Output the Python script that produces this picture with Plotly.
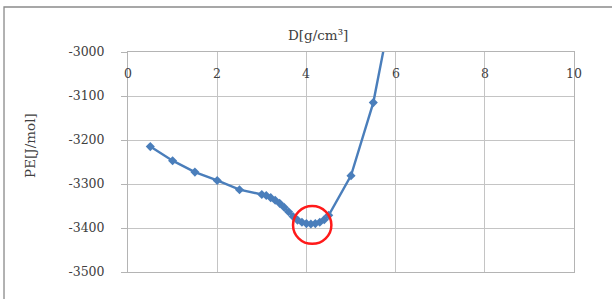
import plotly.graph_objects as go

density = [0.5, 1.0, 1.5, 2.0, 2.5, 3.0, 3.1, 3.2, 3.3, 3.4, 3.5, 3.6, 3.7, 3.8,
           3.9, 4.0, 4.1, 4.2, 4.3, 4.4, 4.5, 5.0, 5.5, 6.0]
energy = [-3215, -3247, -3273, -3292, -3313, -3324, -3326, -3331, -3337, -3344,
          -3353, -3363, -3374, -3382, -3387, -3390, -3391, -3390, -3387, -3381,
          -3371, -3281, -3115, -2855]
x_ticks = [0, 2, 4, 6, 8, 10]
y_ticks = [-3000, -3100, -3200, -3300, -3400, -3500]

FONT = "DejaVu Serif"
TXT = "#404040"

fig = go.Figure()
fig.add_trace(go.Scatter(
    x=density, y=energy, mode="lines+markers",
    line=dict(color="#4a7ebb", width=2.4),
    marker=dict(symbol="diamond", size=7, color="#4a7ebb"),
    showlegend=False,
))

x_label_annotations = [
    dict(text=str(v), x=v, xref="x", y=1.0, yref="paper", yshift=-21,
         showarrow=False, xanchor="center", yanchor="middle",
         font=dict(family=FONT, size=12.5, color=TXT))
    for v in x_ticks
]

fig.update_layout(
    width=612, height=299,
    margin=dict(l=128, r=38, t=52, b=27, autoexpand=False),
    paper_bgcolor="white", plot_bgcolor="white",
    font=dict(family=FONT, size=12, color=TXT),
    xaxis=dict(range=[0, 10], side="top", tickvals=x_ticks,
               showticklabels=False, ticks="", automargin=False,
               showgrid=True, gridcolor="#c4c4c4", gridwidth=1,
               showline=True, linecolor="#b4b4b4", linewidth=1, mirror=True,
               zeroline=False, fixedrange=True),
    yaxis=dict(range=[-3500, -3000], tickvals=y_ticks,
               ticktext=[str(v) for v in y_ticks],
               ticks="outside", ticklen=6, tickcolor="#b4b4b4",
               ticklabelstandoff=14, automargin=False,
               showgrid=True, gridcolor="#c4c4c4", gridwidth=1,
               showline=True, linecolor="#b4b4b4", linewidth=1, mirror=True,
               zeroline=False, fixedrange=True,
               tickfont=dict(family=FONT, size=12.5, color=TXT)),
    annotations=x_label_annotations + [
        dict(text="D[g/cm³]", xref="paper", yref="paper", x=0.426, y=1.077,
             showarrow=False, font=dict(family=FONT, size=13.5, color=TXT),
             xanchor="center", yanchor="middle"),
        dict(text="PE[J/mol]", xref="paper", yref="paper", x=-0.2197, y=0.573,
             showarrow=False, textangle=-90,
             font=dict(family=FONT, size=13.5, color=TXT),
             xanchor="center", yanchor="middle"),
    ],
    shapes=[
        dict(type="rect", xref="paper", yref="paper",
             x0=-0.278, x1=1.2, y0=-0.173, y1=1.2045,
             line=dict(color="#8a8a8a", width=1.3), layer="below"),
        dict(type="circle", xref="x", yref="y",
             x0=3.70, x1=4.56, y0=-3436, y1=-3350,
             line=dict(color="#ff1a1a", width=2.5)),
    ],
)

fig.write_html("out.html",
               config={"displayModeBar": False, "staticPlot": True},
               post_script="document.body.style.margin='0';document.body.style.padding='0';")
